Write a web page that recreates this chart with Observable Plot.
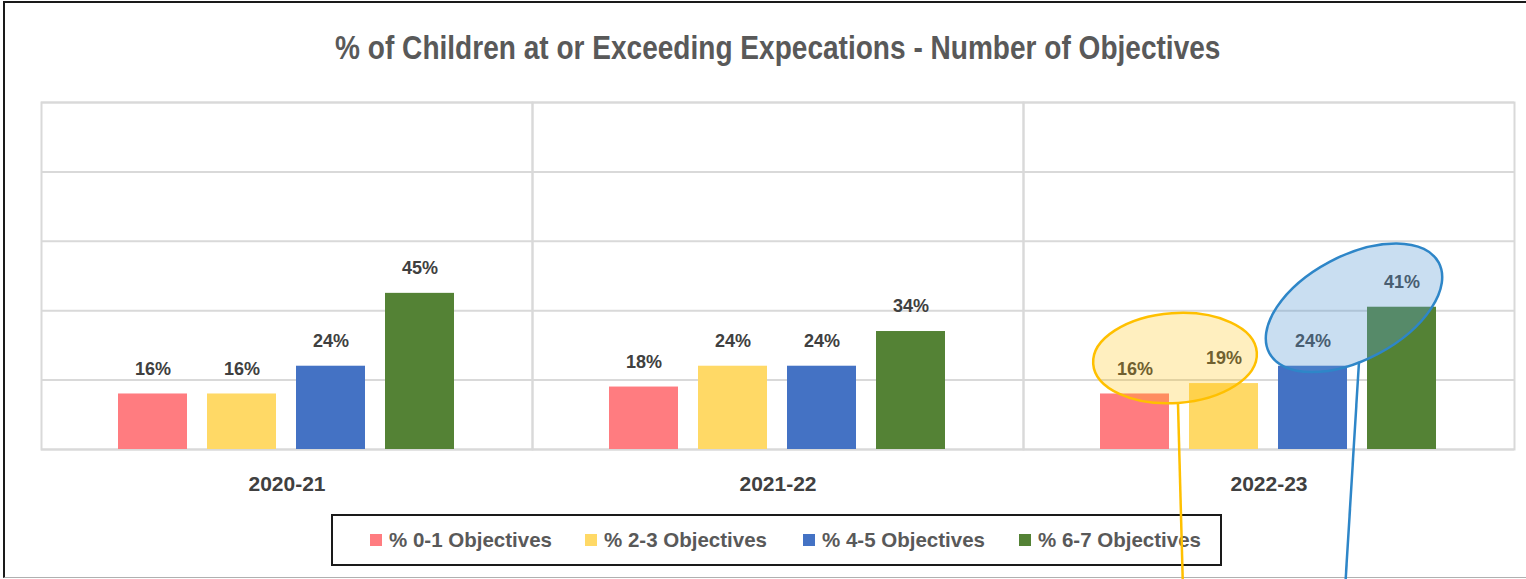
<!DOCTYPE html>
<html><head><meta charset="utf-8">
<script src="https://cdn.jsdelivr.net/npm/d3@7"></script>
<script src="https://cdn.jsdelivr.net/npm/@observablehq/plot@0.6"></script>
<style>
body{margin:0;background:#fff;font-family:"Liberation Sans",sans-serif;}
#wrap{position:relative;width:1526px;height:579px;overflow:hidden;background:#fff;}
#border{position:absolute;left:3px;top:1px;width:1540px;height:574px;border-top:2px solid #1a1a1a;border-left:2px solid #1a1a1a;border-bottom:1px solid #b0b0b0;}
#title{position:absolute;top:29px;left:40px;width:1475px;text-align:center;line-height:38px;}
#title span{display:inline-block;font-size:33px;font-weight:bold;color:#595959;transform:scaleX(0.85);transform-origin:center;white-space:nowrap;}
#chart{position:absolute;left:0;top:82px;}
#legend{position:absolute;left:331px;top:514px;width:887px;height:48px;border:2px solid #1a1a1a;box-sizing:content-box;}
.item{position:absolute;top:0;height:48px;display:flex;align-items:center;font-size:20.5px;font-weight:bold;color:#595959;white-space:nowrap;}
.sw{width:12px;height:12px;margin-right:7px;display:inline-block;}
#overlay{position:absolute;left:0;top:0;pointer-events:none;}
</style></head>
<body>
<div id="wrap">
  <div id="border"></div>
  <div id="title"><span>% of Children at or Exceeding Expecations - Number of Objectives</span></div>
  <div id="chart"></div>
  <div id="legend"></div>
  <svg id="overlay" width="1526" height="579"></svg>
</div>
<script>
const years = ["2020-21", "2021-22", "2022-23"];
const series = ["% 0-1 Objectives", "% 2-3 Objectives", "% 4-5 Objectives", "% 6-7 Objectives"];
const v01 = [16, 18, 16];
const v23 = [16, 24, 19];
const v45 = [24, 24, 24];
const v67 = [45, 34, 41];
const colors = ["#FF7C80", "#FFD966", "#4472C4", "#548235"];
const yTicks = [0, 20, 40, 60, 80, 100];

const allValues = [v01, v23, v45, v67];
const data = [];
years.forEach((yr, i) => series.forEach((s, j) => data.push({year: yr, series: s, value: allValues[j][i]})));

const chart = Plot.plot({
  width: 1526, height: 420,
  marginLeft: 40, marginRight: 11, marginTop: 20, marginBottom: 53,
  style: {fontFamily: '"Liberation Sans",sans-serif', background: "transparent"},
  fx: {domain: years, padding: 0, label: null},
  x: {domain: series, paddingInner: 0.22, paddingOuter: 0.853, axis: null},
  y: {domain: [0, 100], axis: null},
  color: {domain: series, range: colors},
  marks: [
    Plot.gridY(yTicks, {stroke: "#d9d9d9", strokeOpacity: 1, strokeWidth: 2}),
    Plot.frame({stroke: "#d9d9d9", strokeWidth: 2}),
    Plot.barY(data, {fx: "year", x: "series", y: "value", fill: "series"}),
    Plot.text(data, {fx: "year", x: "series", y: "value", text: d => d.value + "%", dy: -25,
      lineAnchor: "middle", fontSize: 18, fontWeight: "bold", fill: "#404040"}),
    Plot.axisFx({anchor: "bottom", tickSize: 0, tickPadding: 27, fontSize: 21, fontWeight: "bold",
      color: "#404040", label: null})
  ]
});
document.getElementById("chart").appendChild(chart);

// legend
const leg = document.getElementById("legend");
const itemLeft = [37, 252, 470, 686];
series.forEach((s, j) => {
  const it = document.createElement("div");
  it.className = "item";
  it.style.left = itemLeft[j] + "px";
  it.innerHTML = `<span class="sw" style="background:${colors[j]}"></span>${s}`;
  leg.appendChild(it);
});

// annotations anchored to the 2022-23 bars
const wrapBox = document.getElementById("wrap").getBoundingClientRect();
const barGroups = chart.querySelectorAll('g[aria-label="bar"] > g');
const lastRects = barGroups[barGroups.length - 1].querySelectorAll("rect");
const rb = Array.from(lastRects).map(r => {
  const b = r.getBoundingClientRect();
  return {cx: b.left + b.width / 2 - wrapBox.left, top: b.top - wrapBox.top};
});
const ov = d3.select("#overlay");
// yellow
const yx = (rb[0].cx + rb[1].cx) / 2 - 4, yy = rb[1].top - 25;
ov.append("line").attr("x1", yx + 3).attr("y1", yy + 46).attr("x2", yx + 8).attr("y2", 590)
  .attr("stroke", "#FFC000").attr("stroke-width", 2.5);
ov.append("ellipse").attr("cx", yx).attr("cy", yy).attr("rx", 82).attr("ry", 45)
  .attr("transform", `rotate(-4 ${yx} ${yy})`)
  .attr("fill", "rgba(255,192,0,0.25)").attr("stroke", "#FFC000").attr("stroke-width", 2.5);
// blue
const bx = (rb[2].cx + rb[3].cx) / 2 - 3, by = rb[3].top + 1;
ov.append("line").attr("x1", bx + 5).attr("y1", by + 54).attr("x2", bx - 9).attr("y2", 590)
  .attr("stroke", "#2E86C8").attr("stroke-width", 2.5);
ov.append("ellipse").attr("cx", bx).attr("cy", by).attr("rx", 96).attr("ry", 52)
  .attr("transform", `rotate(-28 ${bx} ${by})`)
  .attr("fill", "rgba(91,155,213,0.33)").attr("stroke", "#2E86C8").attr("stroke-width", 2.5);
</script>
</body></html>
